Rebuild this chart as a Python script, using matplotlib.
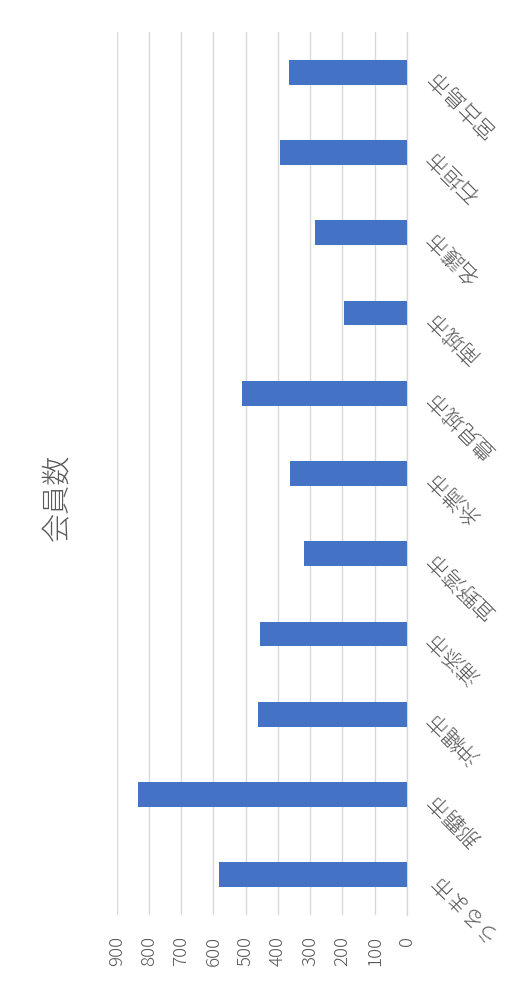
import matplotlib
matplotlib.use("Agg")
import matplotlib.pyplot as plt
import numpy as np

plt.rcParams["font.family"] = ["Noto Sans CJK JP", "DejaVu Sans"]

# categories, bottom to top in the rotated picture
cities = [
    "うるま市",
    "那覇市",
    "沖縄市",
    "浦添市",
    "宜野湾市",
    "糸満市",
    "豊見城市",
    "南城市",
    "名護市",
    "石垣市",
    "宮古島市",
]
members = [582, 833, 462, 456, 319, 362, 512, 195, 286, 393, 365]
value_ticks = [0, 100, 200, 300, 400, 500, 600, 700, 800, 900]

text_color = "#595959"
grid_color = "#d9d9d9"
bar_color = "#4472C4"


def plot_all():
    fig = plt.figure(figsize=(5.18, 9.84), dpi=100)
    ax = fig.add_axes([0.2253, 0.0701, 0.5604, 0.8974])

    pos = np.arange(len(cities))
    ax.barh(pos, members, height=0.31, color=bar_color, zorder=3)

    ax.set_xlim(900, 0)
    ax.set_ylim(-0.5, len(cities) - 0.5)

    ax.set_xticks(value_ticks)
    ax.set_xticklabels([str(v) for v in value_ticks], rotation=90,
                       color=text_color, fontsize=13.5, fontweight="light")
    ax.tick_params(axis="x", length=0, pad=15)

    ax.yaxis.tick_right()
    ax.set_yticks(pos)
    ax.set_yticklabels(cities, rotation=135, rotation_mode="anchor",
                       ha="right", va="center", color=text_color,
                       fontsize=15.5, fontweight="light")
    ax.tick_params(axis="y", length=0, pad=17)

    ax.grid(axis="x", color=grid_color, linewidth=1, zorder=0)
    for side in ["top", "bottom", "left"]:
        ax.spines[side].set_visible(False)
    ax.spines["right"].set_color(grid_color)
    ax.spines["right"].set_linewidth(1)

    fig.text(0.11, 0.495, "会員数", rotation=90, fontsize=21,
             fontweight="light", color=text_color, ha="center", va="center")

    plt.savefig("out.png", dpi=100)


if __name__ == "__main__":
    plot_all()
